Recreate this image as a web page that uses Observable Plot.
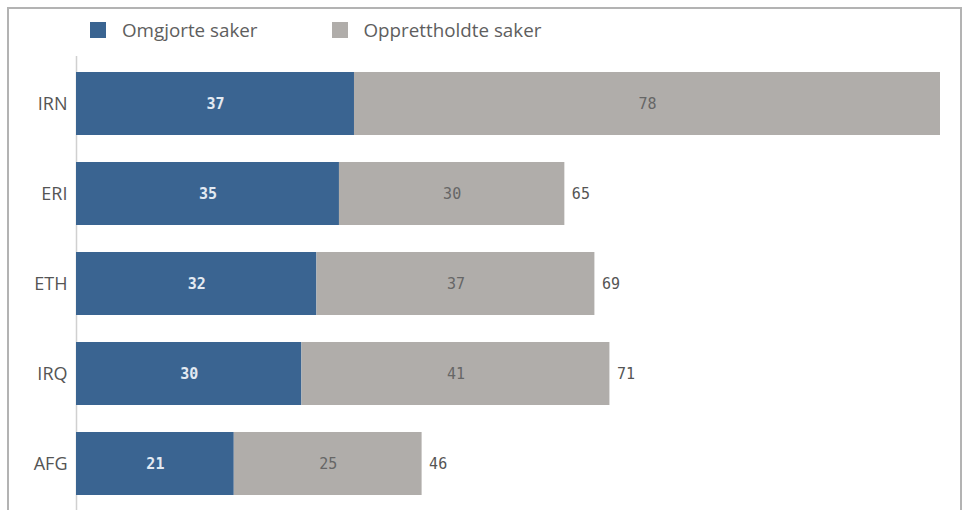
<!DOCTYPE html>
<html><head><meta charset="utf-8">
<script src="https://cdn.jsdelivr.net/npm/d3@7"></script>
<script src="https://cdn.jsdelivr.net/npm/@observablehq/plot@0.6"></script>
<style>
body{margin:0;background:#fff;}
#wrap{position:relative;width:963px;height:510px;overflow:hidden;font-family:"Open Sans",sans-serif;}
#frame{position:absolute;left:7px;top:7px;width:955px;height:520px;border:2px solid #b3b3b3;box-sizing:border-box;}
#legend{position:absolute;left:90px;top:17px;display:flex;font-size:18.8px;color:#5e5e5e;}
.item{display:flex;align-items:center;}
.sw{width:16px;height:16px;margin-right:16px;}
#chart{position:absolute;left:0;top:0;}
</style></head>
<body><div id="wrap"><div id="frame"></div>
<div id="legend"></div>
<div id="chart"></div></div>
<script>
const countries = ["IRN","ERI","ETH","IRQ","AFG"];
const omgjorte = [37,35,32,30,21];
const opprettholdte = [78,30,37,41,25];
const seriesNames = ["Omgjorte saker","Opprettholdte saker"];
const colors = ["#3a6491","#b0adaa"];

const legend = document.getElementById("legend");
seriesNames.forEach((n,i)=>{
  const it=document.createElement("div");it.className="item";
  it.style.marginRight = i===0 ? "74px" : "0";
  it.innerHTML=`<div class="sw" style="background:${colors[i]}"></div><span>${n}</span>`;
  legend.appendChild(it);
});

const rows=[];
countries.forEach((c,i)=>{
  rows.push({country:c,series:seriesNames[0],value:omgjorte[i],start:0});
  rows.push({country:c,series:seriesNames[1],value:opprettholdte[i],start:omgjorte[i]});
});
const totals = countries.map((c,i)=>({country:c,total:omgjorte[i]+opprettholdte[i]}));
const xMax = d3.max(totals,d=>d.total);

const chart = Plot.plot({
  width:963,height:510,
  marginLeft:76,marginRight:23,marginTop:56,marginBottom:0,
  x:{domain:[0,xMax],axis:null},
  y:{domain:countries,paddingInner:0.3,paddingOuter:0.16,label:null},
  color:{domain:seriesNames,range:colors},
  style:{fontFamily:"Open Sans, sans-serif",fontSize:"18px",color:"#555",background:"transparent"},
  marks:[
    Plot.axisY({tickSize:0,tickPadding:9,fontSize:18,label:null,fill:"#555"}),
    Plot.ruleX([0],{stroke:"#d0d0d0",strokeWidth:1.5}),
    Plot.barX(rows,{x1:"start",x2:d=>d.start+d.value,y:"country",fill:"series"}),
    Plot.text(rows.filter(d=>d.series===seriesNames[0]),{x:d=>d.start+d.value/2,y:"country",text:d=>String(d.value),
      fill:"#e3eaf2",fontWeight:"bold",fontFamily:"DejaVu Sans Mono",fontSize:15}),
    Plot.text(rows.filter(d=>d.series===seriesNames[1]),{x:d=>d.start+d.value/2,y:"country",text:d=>String(d.value),
      fill:"#666",fontFamily:"DejaVu Sans Mono",fontSize:15}),
    Plot.text(totals.filter(d=>d.total<xMax),{x:"total",y:"country",text:d=>String(d.total),textAnchor:"start",dx:7,
      fill:"#555",fontFamily:"DejaVu Sans Mono",fontSize:15})
  ]
});
document.getElementById("chart").appendChild(chart);
</script></body></html>
